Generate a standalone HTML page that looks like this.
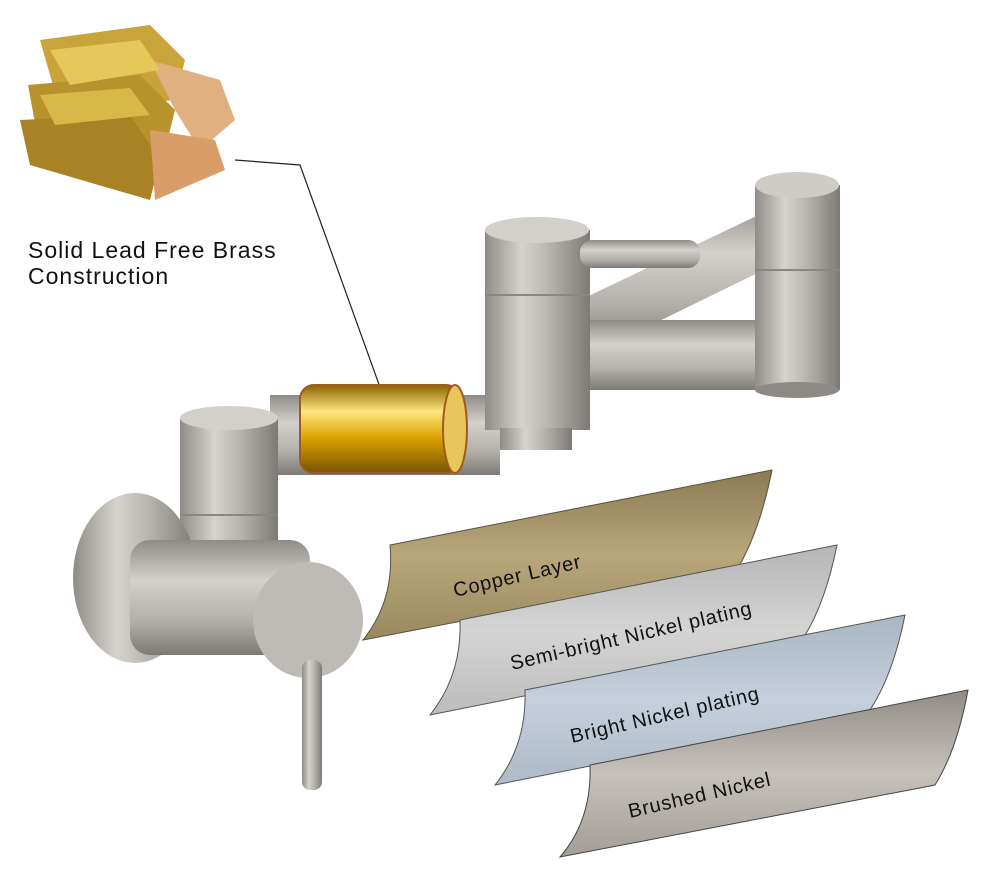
<!DOCTYPE html>
<html><head><meta charset="utf-8"><style>
html,body{margin:0;padding:0;background:#fff;width:990px;height:880px;overflow:hidden}
svg{display:block}
text{font-family:"Liberation Sans",sans-serif}
</style></head><body>
<svg width="990" height="880" viewBox="0 0 990 880" xmlns="http://www.w3.org/2000/svg">
<defs>
<linearGradient id="metal" x1="0" y1="0" x2="1" y2="0">
<stop offset="0" stop-color="#8f8c87"/><stop offset="0.35" stop-color="#d6d3ce"/><stop offset="0.6" stop-color="#b9b6b1"/><stop offset="1" stop-color="#7d7a76"/></linearGradient>
<linearGradient id="metalv" x1="0" y1="0" x2="0" y2="1">
<stop offset="0" stop-color="#8f8c87"/><stop offset="0.35" stop-color="#d4d1cc"/><stop offset="0.7" stop-color="#b3b0ab"/><stop offset="1" stop-color="#7d7a76"/></linearGradient>
<linearGradient id="goldv" x1="0" y1="0" x2="0" y2="1">
<stop offset="0" stop-color="#8a6200"/><stop offset="0.3" stop-color="#ffe680"/><stop offset="0.6" stop-color="#d9a400"/><stop offset="1" stop-color="#7a5200"/></linearGradient>
<linearGradient id="cu" x1="0" y1="0" x2="0" y2="1"><stop offset="0" stop-color="#8a7a52"/><stop offset="0.5" stop-color="#b9a77c"/><stop offset="1" stop-color="#9a885e"/></linearGradient>
<linearGradient id="sb" x1="0" y1="0" x2="0" y2="1"><stop offset="0" stop-color="#b5b5b5"/><stop offset="0.5" stop-color="#d4d4d4"/><stop offset="1" stop-color="#bcbcbc"/></linearGradient>
<linearGradient id="bn" x1="0" y1="0" x2="0" y2="1"><stop offset="0" stop-color="#a9b5c2"/><stop offset="0.5" stop-color="#c6d0dc"/><stop offset="1" stop-color="#aeb9c6"/></linearGradient>
<linearGradient id="br" x1="0" y1="0" x2="0" y2="1"><stop offset="0" stop-color="#918b85"/><stop offset="0.5" stop-color="#c7c1bb"/><stop offset="1" stop-color="#a39d97"/></linearGradient>
</defs>

<g>
<path d="M40 40 L150 25 L185 60 L175 100 L60 110 Z" fill="#c9a43a"/>
<path d="M28 85 L140 75 L175 110 L165 150 L40 150 Z" fill="#b8922c"/>
<path d="M20 120 L130 115 L160 160 L150 200 L30 165 Z" fill="#a88224"/>
<path d="M150 60 L220 80 L235 120 L200 150 L175 110 Z" fill="#e0b080"/>
<path d="M150 130 L215 140 L225 170 L155 200 Z" fill="#d99d6a"/>
<path d="M50 50 L140 40 L160 70 L70 85 Z" fill="#e6c85a"/>
<path d="M40 95 L130 88 L150 115 L55 125 Z" fill="#d8b848"/>
</g>

<text x="28" y="258" font-size="23" letter-spacing="1" fill="#111">Solid Lead Free Brass</text>
<text x="28" y="284" font-size="23" letter-spacing="1" fill="#111">Construction</text>
<polyline points="235,160 300,165 390,415" fill="none" stroke="#222" stroke-width="1.2"/>

<path d="M580 300 L790 200 L815 245 L600 350 Z" fill="url(#metalv)"/>
<rect x="580" y="320" width="210" height="70" fill="url(#metalv)" rx="10"/>
<ellipse cx="790" cy="355" rx="14" ry="35" fill="#b9b6b1"/>
<rect x="755" y="185" width="85" height="205" fill="url(#metal)"/>
<ellipse cx="797" cy="185" rx="42" ry="13" fill="#cfccc7"/>
<ellipse cx="797" cy="390" rx="42" ry="8" fill="#8d8a86"/>
<line x1="755" y1="270" x2="840" y2="270" stroke="#8a8783" stroke-width="2"/>

<rect x="270" y="395" width="230" height="80" fill="url(#metalv)"/>
<rect x="300" y="385" width="160" height="88" rx="14" fill="url(#goldv)" stroke="#a05a20" stroke-width="2"/>
<ellipse cx="455" cy="429" rx="12" ry="44" fill="#e8c65a" stroke="#a05a20" stroke-width="2"/>

<rect x="485" y="230" width="105" height="200" fill="url(#metal)"/>
<ellipse cx="537" cy="230" rx="52" ry="13" fill="#d3d0cb"/>
<line x1="485" y1="295" x2="590" y2="295" stroke="#8a8783" stroke-width="2"/>
<rect x="500" y="428" width="72" height="22" fill="url(#metal)"/>
<rect x="580" y="240" width="120" height="28" rx="12" fill="url(#metalv)"/>

<rect x="180" y="418" width="98" height="170" fill="url(#metal)"/>
<ellipse cx="229" cy="418" rx="49" ry="12" fill="#d3d0cb"/>
<line x1="180" y1="515" x2="278" y2="515" stroke="#8a8783" stroke-width="2"/>

<ellipse cx="135" cy="578" rx="62" ry="85" fill="url(#metal)"/>
<rect x="130" y="540" width="180" height="115" rx="20" fill="url(#metalv)"/>
<ellipse cx="308" cy="620" rx="55" ry="58" fill="#bebbb6"/>
<rect x="302" y="660" width="20" height="130" rx="8" fill="url(#metal)"/>

<path d="M390 545 L772 470 Q760 530 738 568 L363 640 Q395 600 390 545 Z" fill="url(#cu)" stroke="#5a5040" stroke-width="1"/>
<text x="455" y="597" font-size="20" letter-spacing="0.8" fill="#111" transform="rotate(-13 455 597)">Copper Layer</text>

<path d="M460 620 L837 545 Q825 605 802 640 L430 715 Q462 675 460 620 Z" fill="url(#sb)" stroke="#555" stroke-width="1"/>
<text x="512" y="670" font-size="20" letter-spacing="0.8" fill="#111" transform="rotate(-13 512 670)">Semi-bright Nickel plating</text>

<path d="M525 690 L905 615 Q893 675 870 710 L495 785 Q527 745 525 690 Z" fill="url(#bn)" stroke="#555" stroke-width="1"/>
<text x="572" y="743" font-size="20" letter-spacing="0.8" fill="#111" transform="rotate(-13 572 743)">Bright Nickel plating</text>

<path d="M590 765 L968 690 Q957 750 935 785 L560 857 Q592 820 590 765 Z" fill="url(#br)" stroke="#444" stroke-width="1"/>
<text x="630" y="818" font-size="20" letter-spacing="0.8" fill="#111" transform="rotate(-13 630 818)">Brushed Nickel</text>
</svg>
</body></html>
